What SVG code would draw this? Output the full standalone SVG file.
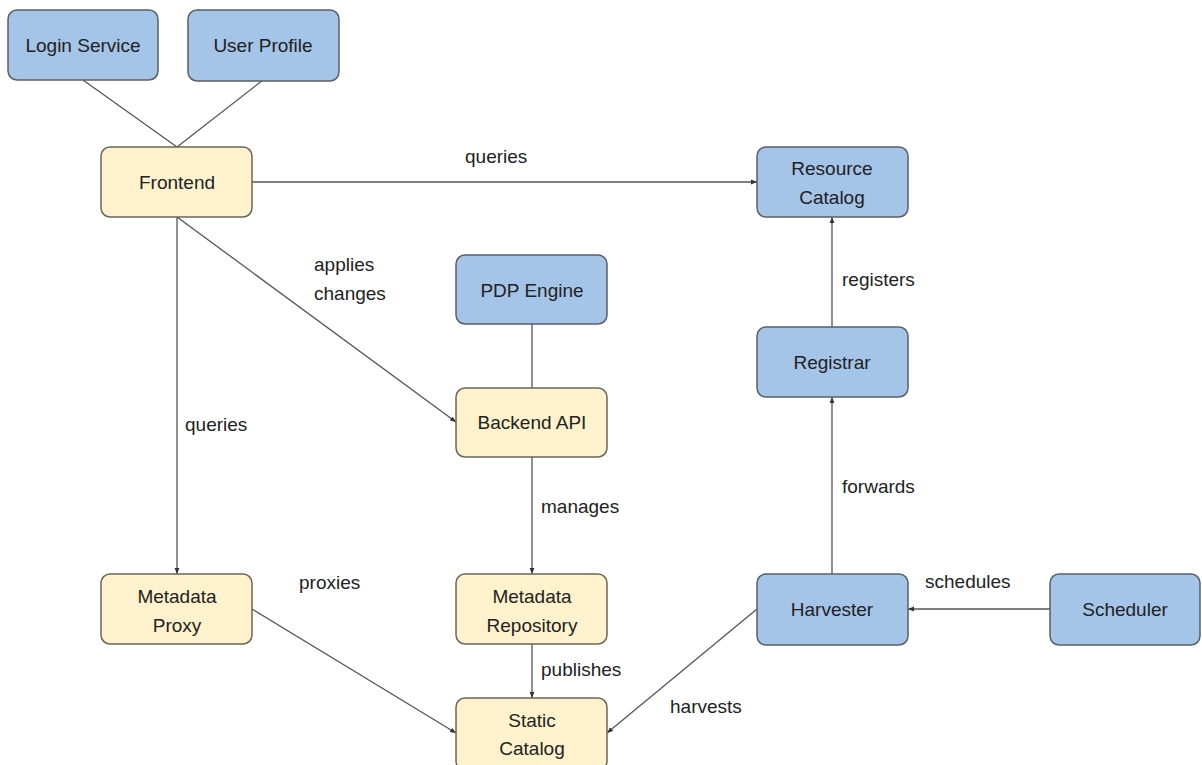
<svg xmlns="http://www.w3.org/2000/svg" width="1202" height="765" viewBox="0 0 1202 765">
<style>
.b{fill:#a4c4e8;stroke:#5a5f66;stroke-width:1.5}
.y{fill:#fff2cc;stroke:#6b6558;stroke-width:1.5}
text{font-family:"Liberation Sans",Arial,sans-serif;font-size:19px;fill:#222}
.c{text-anchor:middle}
.e{fill:none;stroke:#555;stroke-width:1.3}
</style>
<defs>
<marker id="a" viewBox="0 0 10 10" refX="10" refY="5" markerWidth="6" markerHeight="6" orient="auto" markerUnits="userSpaceOnUse">
<path d="M0,1 L10,5 L0,9 z" fill="#333"/>
</marker>
</defs>
<rect width="1202" height="765" fill="#fff"/>
<g id="connectors">
<line class="e" x1="83" y1="80" x2="177" y2="147"/>
<line class="e" x1="263" y1="80" x2="177" y2="147"/>
<line class="e" x1="252" y1="182" x2="757" y2="182" marker-end="url(#a)"/>
<line class="e" x1="177" y1="217" x2="456" y2="422" marker-end="url(#a)"/>
<line class="e" x1="177" y1="217" x2="177" y2="574" marker-end="url(#a)"/>
<line class="e" x1="532" y1="324" x2="532" y2="388"/>
<line class="e" x1="532" y1="457" x2="532" y2="574" marker-end="url(#a)"/>
<line class="e" x1="532" y1="644" x2="532" y2="698" marker-end="url(#a)"/>
<line class="e" x1="252" y1="609" x2="456" y2="733" marker-end="url(#a)"/>
<line class="e" x1="757" y1="609" x2="607" y2="733" marker-end="url(#a)"/>
<line class="e" x1="1050" y1="609" x2="908" y2="609" marker-end="url(#a)"/>
<line class="e" x1="832" y1="574" x2="832" y2="397" marker-end="url(#a)"/>
<line class="e" x1="832" y1="327" x2="832" y2="217" marker-end="url(#a)"/>
<text x="465" y="163">queries</text>
<text x="314" y="271">applies</text>
<text x="314" y="300">changes</text>
<text x="185" y="431">queries</text>
<text x="541" y="513">manages</text>
<text x="299" y="589">proxies</text>
<text x="541" y="676">publishes</text>
<text x="670" y="713">harvests</text>
<text x="925" y="588">schedules</text>
<text x="842" y="493">forwards</text>
<text x="842" y="286">registers</text>
</g>
<g id="login"><rect class="b" x="8" y="10" width="150" height="70" rx="9"/><text class="c" x="83" y="52">Login Service</text></g>
<g id="profile"><rect class="b" x="188" y="10" width="151" height="71" rx="9"/><text class="c" x="263" y="52">User Profile</text></g>
<g id="frontend"><rect class="y" x="101" y="147" width="151" height="70" rx="9"/><text class="c" x="177" y="189">Frontend</text></g>
<g id="resource"><rect class="b" x="757" y="147" width="151" height="70" rx="9"/><text class="c" x="832" y="175">Resource</text><text class="c" x="832" y="204">Catalog</text></g>
<g id="pdp"><rect class="b" x="456" y="255" width="151" height="69" rx="9"/><text class="c" x="532" y="297">PDP Engine</text></g>
<g id="backend"><rect class="y" x="456" y="388" width="151" height="69" rx="9"/><text class="c" x="532" y="429">Backend API</text></g>
<g id="registrar"><rect class="b" x="757" y="327" width="151" height="70" rx="9"/><text class="c" x="832" y="369">Registrar</text></g>
<g id="mproxy"><rect class="y" x="101" y="574" width="151" height="70" rx="9"/><text class="c" x="177" y="603">Metadata</text><text class="c" x="177" y="632">Proxy</text></g>
<g id="mrepo"><rect class="y" x="456" y="574" width="151" height="70" rx="9"/><text class="c" x="532" y="603">Metadata</text><text class="c" x="532" y="632">Repository</text></g>
<g id="harvester"><rect class="b" x="757" y="574" width="151" height="71" rx="9"/><text class="c" x="832" y="616">Harvester</text></g>
<g id="scheduler"><rect class="b" x="1050" y="574" width="150" height="71" rx="9"/><text class="c" x="1125" y="616">Scheduler</text></g>
<g id="static"><rect class="y" x="456" y="698" width="151" height="72" rx="9"/><text class="c" x="532" y="727">Static</text><text class="c" x="532" y="755">Catalog</text></g>
</svg>
